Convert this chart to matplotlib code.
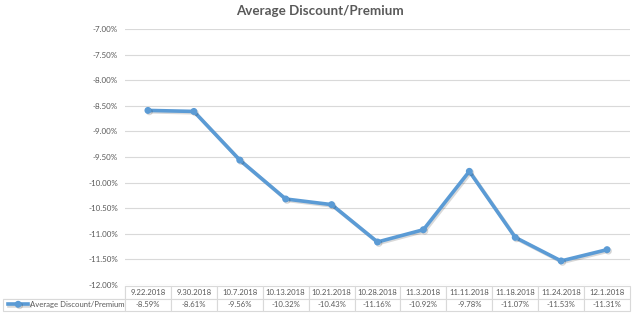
import matplotlib.pyplot as plt
import matplotlib.patheffects as pe
from matplotlib.ticker import FuncFormatter, MultipleLocator

plt.rcParams["font.family"] = ["Lato", "DejaVu Sans"]

dates = ["9.22.2018", "9.30.2018", "10.7.2018", "10.13.2018", "10.21.2018",
         "10.28.2018", "11.3.2018", "11.11.2018", "11.18.2018", "11.24.2018",
         "12.1.2018"]
values = [-8.59, -8.61, -9.56, -10.32, -10.43, -11.16, -10.92, -9.78,
          -11.07, -11.53, -11.31]
series_name = "Average Discount/Premium"

BLUE = "#5B9BD5"
GREY = "#595959"

fig = plt.figure(figsize=(6.4, 3.14), dpi=100)
ax = fig.add_axes([125 / 640, 29 / 314, 505 / 640, 256 / 314])

x = list(range(len(dates)))
line, = ax.plot(x, [v / 100 for v in values], color=BLUE, lw=2.6,
                marker="o", ms=4, label=series_name,
                path_effects=[pe.SimpleLineShadow(offset=(1, -1), alpha=0.15),
                              pe.Normal()])

ax.set_xlim(-0.5, len(dates) - 0.5)
ax.set_ylim(-0.12, -0.07)
ax.yaxis.set_major_locator(MultipleLocator(0.005))
ax.yaxis.set_major_formatter(FuncFormatter(lambda v, p: f"{v * 100:.2f}%"))
ax.set_xticks([])
ax.tick_params(axis="y", length=0, labelsize=5.8, labelcolor=GREY, pad=5)
ax.grid(axis="y", color="#D9D9D9", lw=0.8)
ax.set_axisbelow(True)
for s in ax.spines.values():
    s.set_visible(False)

fig.suptitle("Average Discount/Premium", x=0.5, y=0.985, fontsize=9.6,
             fontweight="bold", color=GREY)

# data table under the plot
first_w = 122 / 505
col_w = 1 / len(dates)
cells = [[""] + dates, [""] + [f"{v:.2f}%" for v in values]]
tab = ax.table(cellText=cells, cellLoc="center",
               colWidths=[first_w] + [col_w] * len(dates),
               bbox=[-first_w, -26 / 256, 1 + first_w, 25 / 256])
tab.auto_set_font_size(False)
for (r, c), cell in tab.get_celld().items():
    cell.set_edgecolor("#D9D9D9")
    cell.set_linewidth(0.8)
    cell.get_text().set_fontsize(5.6)
    cell.get_text().set_color(GREY)
    if r == 0 and c == 0:
        cell.visible_edges = "BR"

ax.legend(handles=[line], loc="center left",
          bbox_to_anchor=(-first_w + 0.01, -19.5 / 256), frameon=False,
          fontsize=5.6, labelcolor=GREY, handlelength=2.6, handletextpad=0.2,
          borderpad=0, borderaxespad=0)

fig.savefig("out.png", dpi=100)
